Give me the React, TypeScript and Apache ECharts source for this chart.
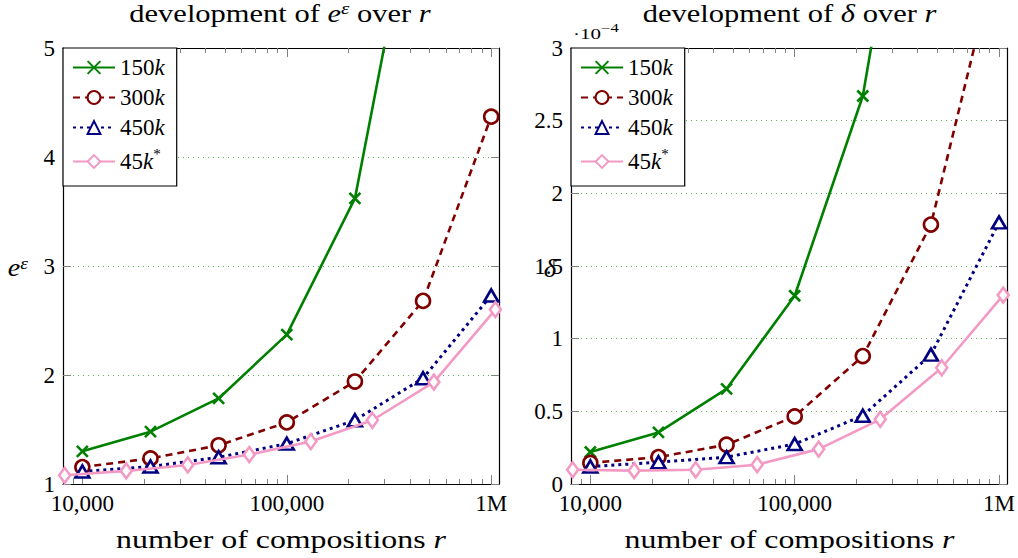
import { useEffect, useRef } from "react";
import * as echarts from "echarts";

// ---------- data ----------
const SERIES_NAMES = ["150k", "300k", "450k", "45k*"];
const R_MAIN = [10000, 21544, 46416, 100000, 215443, 464159, 1000000];
const R_STAR = [8192, 16384, 32768, 65536, 131072, 262144, 524288, 1048576];

// e^epsilon
const EPS_150K = [1.3, 1.48, 1.785, 2.37, 3.62, 6.85];
const EPS_300K = [1.155, 1.235, 1.355, 1.565, 1.94, 2.68, 4.37];
const EPS_450K = [1.115, 1.16, 1.245, 1.37, 1.585, 1.97, 2.73];
const EPS_45K_STAR = [1.08, 1.12, 1.175, 1.27, 1.39, 1.585, 1.935, 2.6];

// delta (in units of 1e-4)
const DELTA_150K = [0.22, 0.355, 0.655, 1.295, 2.67, 5.4];
const DELTA_300K = [0.145, 0.185, 0.27, 0.465, 0.88, 1.785, 3.7];
const DELTA_450K = [0.12, 0.15, 0.185, 0.275, 0.47, 0.89, 1.8];
const DELTA_45K_STAR = [0.098, 0.092, 0.098, 0.133, 0.24, 0.445, 0.8, 1.3];

const X_MIN = 8040;
const X_MAX = 1092000;
const X_MAJOR = [10000, 100000, 1000000];
const X_MAJOR_LABELS = ["10,000", "100,000", "1M"];
const X_MINOR = [
  9000, 20000, 30000, 40000, 50000, 60000, 70000, 80000, 90000,
  200000, 300000, 400000, 500000, 600000, 700000, 800000, 900000,
];

const EPS_Y = { min: 1, max: 5, interval: 1 };
const DELTA_Y = { min: 0, max: 3, interval: 0.5 };

const TITLES = [
  "{n|development of }{i|e}{sup|ε}{n| over }{i|r}",
  "{n|development of }{i|δ}{n| over }{i|r}",
];
const X_NAME = "{n|number of compositions }{i|r}";
const Y_NAMES = ["{i|e}{sup|ε}", "{i|δ}"];
const Y_SCALE_NOTE = "{sm|·10}{smsup|−4}";

// ---------- styles ----------
const FONT = "'Liberation Serif', 'DejaVu Serif', serif";
const FS = 23;
const BIG = 24.5;
const TICK_COLOR = "#808080";
const GRID_COLOR = "rgba(40,150,40,0.75)";
const COLORS = ["#008000", "#800000", "#000080", "#f39ac4"];

const RICH: any = {
  n: { fontSize: FS, lineHeight: FS, fontFamily: FONT, color: "#000" },
  i: { fontStyle: "italic", fontSize: FS, lineHeight: FS, fontFamily: FONT, color: "#000" },
  supn: {
    fontSize: 15, lineHeight: 15, padding: [0, 0, 16, 0], fontFamily: FONT, color: "#000",
  },
};

const RICH_BIG: any = {
  n: { fontSize: BIG, lineHeight: BIG, fontFamily: FONT, fill: "#000" },
  i: { fontStyle: "italic", fontSize: BIG, lineHeight: BIG, fontFamily: FONT, fill: "#000" },
  sup: {
    fontStyle: "italic", fontSize: 17, lineHeight: 17,
    padding: [0, 0, 10, 0], fontFamily: FONT, fill: "#000",
  },
  sm: { fontSize: 15, lineHeight: 15, fontFamily: FONT, fill: "#000" },
  smsup: {
    fontSize: 12, lineHeight: 12, padding: [0, 0, 14, 0], fontFamily: FONT, fill: "#000",
  },
};

const LEGEND_TEXT: Record<string, string> = {
  "150k": "{n|150}{i|k}",
  "300k": "{n|300}{i|k}",
  "450k": "{n|450}{i|k}",
  "45k*": "{n|45}{i|k}{supn|*}",
};

const GRIDS = [
  { left: 63, top: 48, width: 436, height: 436 },
  { left: 571, top: 48, width: 437, height: 436 },
];

const lg = (v: number) => Math.log10(v);

function xAxesFor(g: number) {
  const base = {
    type: "value",
    gridIndex: g,
    min: lg(X_MIN),
    max: lg(X_MAX),
    splitLine: { show: false },
  };
  const majorLabel = (v: number) => {
    const idx = X_MAJOR.findIndex((m) => Math.abs(lg(m) - v) < 1e-6);
    return idx >= 0 ? X_MAJOR_LABELS[idx] : "";
  };
  return [
    {
      ...base,
      position: "bottom",
      axisLine: { show: true, onZero: false, lineStyle: { color: "#000", width: 1.2 } },
      axisTick: {
        show: true, inside: true, length: 9, customValues: X_MAJOR.map(lg),
        lineStyle: { color: TICK_COLOR, width: 1 },
      },
      axisLabel: {
        show: true, customValues: X_MAJOR.map(lg), formatter: majorLabel,
        fontFamily: FONT, fontSize: FS, color: "#000", margin: 8,
      },
    },
    {
      ...base,
      position: "bottom",
      axisLine: { show: false, onZero: false },
      axisTick: {
        show: true, inside: true, length: 5, customValues: X_MINOR.map(lg),
        lineStyle: { color: TICK_COLOR, width: 1 },
      },
      axisLabel: { show: false },
    },
    {
      ...base,
      position: "top",
      axisLine: { show: true, onZero: false, lineStyle: { color: "#000", width: 1.2 } },
      axisTick: {
        show: true, inside: true, length: 9, customValues: X_MAJOR.map(lg),
        lineStyle: { color: TICK_COLOR, width: 1 },
      },
      axisLabel: { show: false },
    },
    {
      ...base,
      position: "top",
      axisLine: { show: false, onZero: false },
      axisTick: {
        show: true, inside: true, length: 5, customValues: X_MINOR.map(lg),
        lineStyle: { color: TICK_COLOR, width: 1 },
      },
      axisLabel: { show: false },
    },
  ];
}

function yAxesFor(g: number, range: { min: number; max: number; interval: number }) {
  const base = { type: "value", gridIndex: g, ...range };
  return [
    {
      ...base,
      position: "left",
      axisLine: { show: true, onZero: false, lineStyle: { color: "#000", width: 1.2 } },
      axisTick: { show: true, inside: true, length: 8, lineStyle: { color: TICK_COLOR, width: 1 } },
      axisLabel: { fontFamily: FONT, fontSize: FS, color: "#000", margin: 8 },
      splitLine: { show: true, lineStyle: { color: GRID_COLOR, width: 1, type: [1, 4] } },
    },
    {
      ...base,
      position: "right",
      axisLine: { show: true, onZero: false, lineStyle: { color: "#000", width: 1.2 } },
      axisTick: { show: true, inside: true, length: 8, lineStyle: { color: TICK_COLOR, width: 1 } },
      axisLabel: { show: false },
      splitLine: { show: false },
    },
  ];
}

const SYMBOLS = [
  { symbol: "path://M0,0L10,10M0,10L10,0", size: 11, lw: 2.6, dash: "solid" as any, width: 2.6 },
  { symbol: "circle", size: 14, lw: 2.6, dash: [7, 5] as any, width: 2.6 },
  { symbol: "triangle", size: [14, 12] as any, lw: 2.6, dash: [3, 4] as any, width: 3 },
  { symbol: "diamond", size: [11, 15] as any, lw: 2.6, dash: "solid" as any, width: 2.6 },
];

function makeSeries(g: number, values: number[][]) {
  return values.map((vals, k) => {
    const xs = k === 3 ? R_STAR : R_MAIN;
    const s = SYMBOLS[k];
    const c = COLORS[k];
    const isCross = k === 0;
    return {
      type: "line",
      name: SERIES_NAMES[k],
      xAxisIndex: g * 4,
      yAxisIndex: g * 2,
      data: vals.map((v, i) => [lg(xs[i]), v]),
      color: c,
      symbol: s.symbol,
      symbolSize: s.size,
      showAllSymbol: true,
      clip: true,
      lineStyle: { color: c, width: s.width, type: s.dash, cap: "butt" },
      itemStyle: {
        color: isCross ? c : "#fff",
        borderColor: c,
        borderWidth: s.lw,
      },
      emphasis: { disabled: true },
      z: 2 + k,
    };
  });
}

function legendFor(g: number) {
  return {
    left: GRIDS[g].left,
    top: GRIDS[g].top,
    orient: "vertical",
    data: SERIES_NAMES,
    selectedMode: false,
    backgroundColor: "#fff",
    borderColor: "#000",
    borderWidth: 1.2,
    borderRadius: 0,
    padding: [8, 12, 9, 9],
    itemGap: 7,
    itemWidth: 42,
    itemHeight: 16,
    formatter: (name: string) => LEGEND_TEXT[name] ?? name,
    textStyle: { fontFamily: FONT, fontSize: FS, color: "#000", lineHeight: FS, rich: RICH },
    z: 20,
  };
}

function label(text: string, x: number, y: number, scaleX: number, align = "center", z = 10) {
  return {
    type: "text",
    x,
    y,
    scaleX,
    z,
    style: {
      text,
      rich: RICH_BIG,
      font: `${BIG}px ${FONT}`,
      align,
      verticalAlign: "middle",
      fill: "#000",
    },
  };
}

export default function App() {
  const ref = useRef<HTMLDivElement>(null);
  useEffect(() => {
    if (!ref.current) return;
    const chart = echarts.init(ref.current, null, { renderer: "svg" });
    const cx = GRIDS.map((g) => g.left + g.width / 2);
    const option: any = {
      animation: false,
      backgroundColor: "#fff",
      textStyle: { fontFamily: FONT },
      grid: GRIDS.map((g) => ({ ...g, containLabel: false })),
      xAxis: [...xAxesFor(0), ...xAxesFor(1)],
      yAxis: [...yAxesFor(0, EPS_Y), ...yAxesFor(1, DELTA_Y)],
      legend: [legendFor(0), legendFor(1)],
      series: [
        ...makeSeries(0, [EPS_150K, EPS_300K, EPS_450K, EPS_45K_STAR]),
        ...makeSeries(1, [DELTA_150K, DELTA_300K, DELTA_450K, DELTA_45K_STAR]),
      ],
      graphic: [
        label(TITLES[0], cx[0] - 1, 13.5, 1.245),
        label(TITLES[1], cx[1], 13.5, 1.245),
        label(X_NAME, cx[0], 540, 1.3),
        label(X_NAME, cx[1], 540, 1.3),
        label(Y_NAMES[0], 28, 268, 1.15, "right"),
        label(Y_NAMES[1], 550, 269, 1.1, "center"),
        label(Y_SCALE_NOTE, 573, 34.5, 1.4, "left"),
      ],
    };
    chart.setOption(option);
    return () => chart.dispose();
  }, []);
  return (
    <div
      ref={ref}
      style={{ position: "fixed", left: 0, top: 0, width: 1018, height: 558, background: "#fff" }}
    />
  );
}
